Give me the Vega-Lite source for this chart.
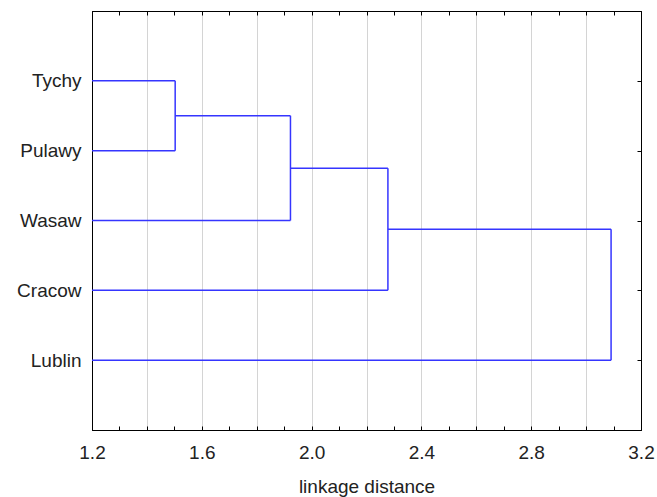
{
  "$schema": "https://vega.github.io/schema/vega-lite/v6.json",
  "width": 549,
  "height": 419,
  "autosize": {"type": "none"},
  "padding": {"left": 92, "top": 11, "right": 16, "bottom": 67},
  "background": "white",
  "config": {
    "view": {"stroke": "black", "strokeWidth": 1},
    "axis": {"labelFont": "Liberation Sans", "titleFont": "Liberation Sans", "labelColor": "#222", "titleColor": "#222", "domainColor": "black", "tickColor": "black", "labelFontSize": 19, "titleFontSize": 19, "titleFontWeight": "normal"}
  },
  "data": {
    "values": [
      {"x": 1.2, "x2": 1.503, "y": 1, "y2": 1},
      {"x": 1.2, "x2": 1.503, "y": 2, "y2": 2},
      {"x": 1.503, "x2": 1.503, "y": 1, "y2": 2},
      {"x": 1.503, "x2": 1.923, "y": 1.5, "y2": 1.5},
      {"x": 1.2, "x2": 1.923, "y": 3, "y2": 3},
      {"x": 1.923, "x2": 1.923, "y": 1.5, "y2": 3},
      {"x": 1.923, "x2": 2.278, "y": 2.25, "y2": 2.25},
      {"x": 1.2, "x2": 2.278, "y": 4, "y2": 4},
      {"x": 2.278, "x2": 2.278, "y": 2.25, "y2": 4},
      {"x": 2.278, "x2": 3.091, "y": 3.125, "y2": 3.125},
      {"x": 1.2, "x2": 3.091, "y": 5, "y2": 5},
      {"x": 3.091, "x2": 3.091, "y": 3.125, "y2": 5}
    ]
  },
  "resolve": {"axis": {"x": "independent", "y": "independent"}},
  "layer": [
    {
      "mark": {"type": "rule", "color": "#3535ff", "strokeWidth": 1.5},
      "encoding": {
        "x": {
          "field": "x", "type": "quantitative",
          "scale": {"domain": [1.2, 3.2], "nice": false, "zero": false},
          "axis": {
            "orient": "bottom",
            "title": "linkage distance",
            "titlePadding": 15,
            "values": [1.2, 1.3, 1.4, 1.5, 1.6, 1.7, 1.8, 1.9, 2.0, 2.1, 2.2, 2.3, 2.4, 2.5, 2.6, 2.7, 2.8, 2.9, 3.0, 3.1, 3.2],
            "labelExpr": "abs(round(datum.value*10) % 4) == 0 ? format(datum.value, '.1f') : ''",
            "labelPadding": 17,
            "labelFlush": false,
            "tickSize": -4,
            "grid": true,
            "gridColor": "#d4d4d4",
            "gridWidth": 1,
            "gridOpacity": {"condition": {"test": "abs(round(datum.value*10) % 2) == 0 && datum.value > 1.25 && datum.value < 3.15", "value": 1}, "value": 0}
          }
        },
        "x2": {"field": "x2"},
        "y": {
          "field": "y", "type": "quantitative",
          "scale": {"domain": [0, 6], "reverse": true, "nice": false, "zero": false},
          "axis": {
            "orient": "left",
            "title": null,
            "values": [1, 2, 3, 4, 5],
            "labelExpr": "['', 'Tychy', 'Pulawy', 'Wasaw', 'Cracow', 'Lublin'][datum.value]",
            "ticks": false,
            "labelPadding": 11,
            "grid": false
          }
        },
        "y2": {"field": "y2"}
      }
    },
    {
      "mark": {"type": "rule", "color": "#3535ff", "strokeOpacity": 0},
      "encoding": {
        "x": {
          "field": "x", "type": "quantitative",
          "scale": {"domain": [1.2, 3.2], "nice": false, "zero": false},
          "axis": {
            "orient": "top", "title": null, "labels": false, "grid": false,
            "values": [1.2, 1.3, 1.4, 1.5, 1.6, 1.7, 1.8, 1.9, 2.0, 2.1, 2.2, 2.3, 2.4, 2.5, 2.6, 2.7, 2.8, 2.9, 3.0, 3.1, 3.2],
            "tickSize": -4
          }
        },
        "x2": {"field": "x2"},
        "y": {
          "field": "y", "type": "quantitative",
          "scale": {"domain": [0, 6], "reverse": true, "nice": false, "zero": false},
          "axis": {
            "orient": "right", "title": null, "labels": false, "grid": false,
            "values": [1, 2, 3, 4, 5],
            "tickSize": -4
          }
        },
        "y2": {"field": "y2"}
      }
    }
  ]
}
